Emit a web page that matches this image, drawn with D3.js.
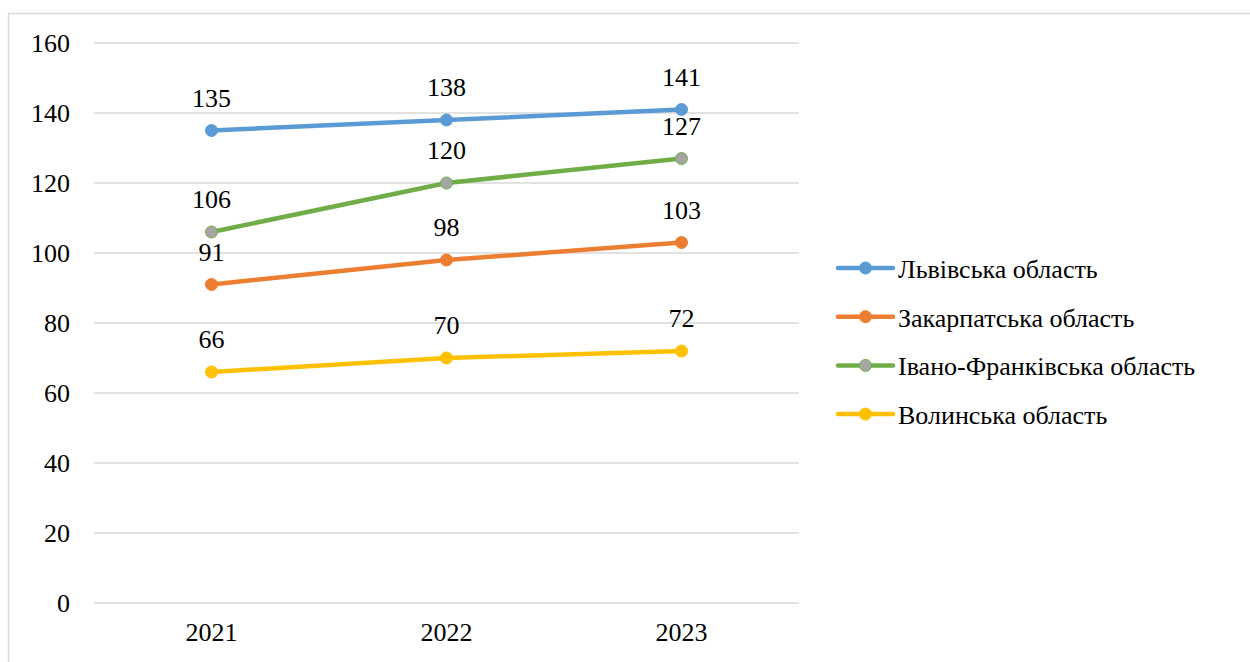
<!DOCTYPE html>
<html>
<head>
<meta charset="utf-8">
<script src="https://cdn.jsdelivr.net/npm/d3@7"></script>
</head>
<body style="margin:0">
<svg id="regions-plot" width="1250" height="662"></svg>
<script>
const YEARS = ["2021", "2022", "2023"];
const Y_TICKS = [0, 20, 40, 60, 80, 100, 120, 140, 160];
const SERIES_NAMES = ["Львівська область", "Закарпатська область", "Івано-Франківська область", "Волинська область"];
const LVIV = [135, 138, 141];
const ZAKARPATTIA = [91, 98, 103];
const IVANO_FRANKIVSK = [106, 120, 127];
const VOLYN = [66, 70, 72];

const COLORS = ["#5B9BD5", "#ED7D31", "#70AD47", "#FFC000"];
const MARKER_FILL = ["#5B9BD5", "#ED7D31", "#A5A5A5", "#FFC000"];

const W = 1250, H = 662;
const PLOT = { left: 94, right: 799, top: 43, bottom: 603 };
const TEXT_STYLE = "font-family:'Liberation Serif';font-size:26px";

const series = [LVIV, ZAKARPATTIA, IVANO_FRANKIVSK, VOLYN].map((vals, i) => ({
    name: SERIES_NAMES[i],
    values: vals.map((v, j) => ({ year: YEARS[j], value: v })),
    color: COLORS[i],
    fill: MARKER_FILL[i]
}));

const svg = d3.select("#regions-plot");

// outer chart border
svg.append("rect")
    .attr("x", 8.5).attr("y", 13.5)
    .attr("width", W + 10).attr("height", H + 10)
    .attr("fill", "none")
    .attr("stroke", "#D9D9D9")
    .attr("stroke-width", 1.5);

const x = d3.scaleBand()
    .domain(YEARS)
    .range([PLOT.left, PLOT.right]);

const y = d3.scaleLinear()
    .domain([0, 160])
    .range([PLOT.bottom, PLOT.top]);

// gridlines
svg.append("g")
    .selectAll("line")
    .data(Y_TICKS)
    .join("line")
    .attr("x1", PLOT.left).attr("x2", PLOT.right)
    .attr("y1", d => y(d)).attr("y2", d => y(d))
    .attr("stroke", "#D9D9D9")
    .attr("stroke-width", 1.5);

// y axis labels
const yAxis = svg.append("g")
    .attr("transform", `translate(${PLOT.left - 24},0)`)
    .call(d3.axisLeft(y).tickValues(Y_TICKS).tickSize(0).tickPadding(0))
    .attr("font-family", "Liberation Serif")
    .attr("font-size", 26);
yAxis.select(".domain").remove();
yAxis.selectAll("text").attr("fill", "#000").attr("style", TEXT_STYLE);

// x axis labels
const xAxis = svg.append("g")
    .attr("transform", `translate(0,${PLOT.bottom})`)
    .call(d3.axisBottom(x).tickSize(0).tickPadding(20))
    .attr("font-family", "Liberation Serif")
    .attr("font-size", 26);
xAxis.select(".domain").remove();
xAxis.selectAll("text").attr("fill", "#000").attr("style", TEXT_STYLE);

const cx = d => x(d.year) + x.bandwidth() / 2;

const line = d3.line()
    .x(cx)
    .y(d => y(d.value));

const groups = svg.append("g")
    .selectAll("g")
    .data(series)
    .join("g");

groups.append("path")
    .attr("d", d => line(d.values))
    .attr("fill", "none")
    .attr("stroke", d => d.color)
    .attr("stroke-width", 4.5)
    .attr("stroke-linecap", "round");

groups.selectAll("circle")
    .data(d => d.values.map(v => ({ ...v, s: d })))
    .join("circle")
    .attr("cx", cx)
    .attr("cy", d => y(d.value))
    .attr("r", 6)
    .attr("fill", d => d.s.fill)
    .attr("stroke", d => d.s.color)
    .attr("stroke-width", 1);

groups.selectAll("text.lbl")
    .data(d => d.values)
    .join("text")
    .attr("class", "lbl")
    .attr("x", cx)
    .attr("y", d => y(d.value) - 24)
    .attr("text-anchor", "middle")
    .attr("style", TEXT_STYLE)
    .text(d => d.value);

// legend
const legend = svg.append("g")
    .selectAll("g")
    .data(series)
    .join("g")
    .attr("transform", (d, i) => `translate(838,${268 + i * 48.7})`);

legend.append("line")
    .attr("x1", 0).attr("x2", 55)
    .attr("stroke", d => d.color)
    .attr("stroke-width", 4.5)
    .attr("stroke-linecap", "round");

legend.append("circle")
    .attr("cx", 27.5)
    .attr("r", 6)
    .attr("fill", d => d.fill)
    .attr("stroke", d => d.color)
    .attr("stroke-width", 1);

legend.append("text")
    .attr("x", 60)
    .attr("y", 10)
    .attr("style", TEXT_STYLE)
    .text(d => d.name);
</script>
</body>
</html>
